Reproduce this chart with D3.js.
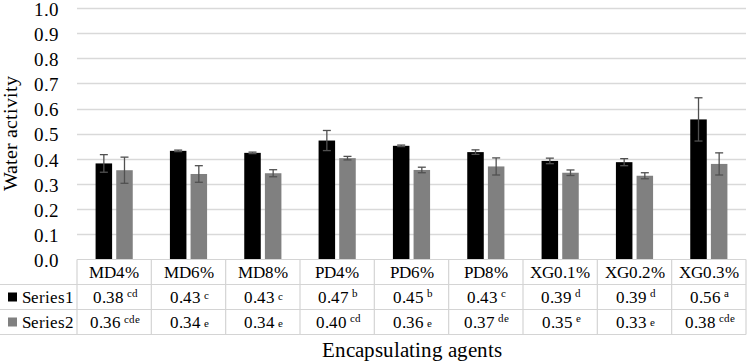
<!DOCTYPE html>
<html>
<head>
<meta charset="utf-8">
<script src="https://cdn.jsdelivr.net/npm/d3@7"></script>
<style>
  @font-face { font-family: "ChartSerif"; src: local("Liberation Serif"), local("LiberationSerif"), local("LiberationSerif-Regular"), local("Times New Roman"), local("Tinos"), local("Tinos-Regular"); }
  html, body { margin: 0; padding: 0; background: #fff; }
  #chart { font-family: "ChartSerif", "Times New Roman", "Liberation Serif", Tinos, serif; }
</style>
</head>
<body>
<svg id="chart" width="747" height="362" style="font-family: 'ChartSerif', 'Times New Roman', 'Liberation Serif', serif"></svg>
<script>
// ---------- data ----------
const categories = ["MD4%", "MD6%", "MD8%", "PD4%", "PD6%", "PD8%", "XG0.1%", "XG0.2%", "XG0.3%"];
const seriesNames = ["Series1", "Series2"];
const series1 = [0.382, 0.432, 0.424, 0.473, 0.452, 0.427, 0.392, 0.387, 0.557];
const series2 = [0.355, 0.340, 0.343, 0.403, 0.356, 0.370, 0.345, 0.333, 0.380];
const series1Err = [0.035, 0.003, 0.003, 0.040, 0.003, 0.009, 0.011, 0.014, 0.086];
const series2Err = [0.052, 0.033, 0.014, 0.007, 0.011, 0.034, 0.011, 0.012, 0.044];
const series1Labels = ["0.38", "0.43", "0.43", "0.47", "0.45", "0.43", "0.39", "0.39", "0.56"];
const series2Labels = ["0.36", "0.34", "0.34", "0.40", "0.36", "0.37", "0.35", "0.33", "0.38"];
const series1Letters = ["cd", "c", "c", "b", "b", "c", "d", "d", "a"];
const series2Letters = ["cde", "e", "e", "cd", "e", "de", "e", "e", "cde"];
const yTicks = [0, 0.1, 0.2, 0.3, 0.4, 0.5, 0.6, 0.7, 0.8, 0.9, 1.0];

// ---------- style ----------
const FONT = '"ChartSerif", "Times New Roman", "Liberation Serif", serif';
const colors = ["#000000", "#808080"];
const gridColor = "#d9d9d9";
const tableColor = "#d4d4d4";
const errColor = "#505050";
const supRaise = [[6, 4, 3, 6, 6, 6, 6, 6, 6], [5, 1, 1, 6, 1, 6, 6, 2, 6]];

const svg = d3.select("#chart");
const mLeft = 77, mRight = 746, mTop = 8, mBottom = 259.5;
const rowH = 25;

const x = d3.scaleBand().domain(categories).range([mLeft, mRight]).padding(0);
const xs = d3.scaleBand().domain(seriesNames).range([0, x.bandwidth()])
  .paddingInner(0.2).paddingOuter(0.9);
const y = d3.scaleLinear().domain([0, 1]).range([mBottom, mTop]);

// gridlines
svg.append("g").selectAll("line").data(yTicks.filter(d => d > 0)).join("line")
  .attr("x1", mLeft).attr("x2", mRight)
  .attr("y1", d => Math.round(y(d)) + 0.5).attr("y2", d => Math.round(y(d)) + 0.5)
  .attr("stroke", gridColor).attr("stroke-width", 1.3);

// y axis tick labels
const yAxis = d3.axisLeft(y).tickValues(yTicks).tickFormat(d3.format(".1f")).tickSize(0).tickPadding(18);
const ga = svg.append("g").attr("transform", `translate(${mLeft},0)`).call(yAxis);
ga.attr("font-family", null).attr("font-size", null);
ga.select(".domain").remove();
ga.selectAll("text").attr("font-size", 19).attr("dy", "0.38em").attr("fill", "#000").style("font-family", FONT);

// y title
svg.append("text")
  .attr("transform", `translate(17,${(mTop + mBottom) / 2}) rotate(-90)`)
  .attr("text-anchor", "middle").attr("font-size", 20).attr("fill", "#000")
  .style("font-family", FONT)
  .text("Water activity");

// bars
const allSeries = [
  { name: seriesNames[0], values: series1, errs: series1Err },
  { name: seriesNames[1], values: series2, errs: series2Err }
];
allSeries.forEach((s, si) => {
  const g = svg.append("g");
  g.selectAll("rect").data(categories).join("rect")
    .attr("x", c => x(c) + xs(s.name))
    .attr("width", xs.bandwidth())
    .attr("y", (c, i) => y(s.values[i]))
    .attr("height", (c, i) => y(0) - y(s.values[i]))
    .attr("fill", colors[si]);
  const eg = svg.append("g").attr("stroke", errColor).attr("stroke-width", 1.3);
  categories.forEach((c, i) => {
    const cx = x(c) + xs(s.name) + xs.bandwidth() / 2;
    const y1 = y(s.values[i] + s.errs[i]), y2 = y(s.values[i] - s.errs[i]);
    eg.append("line").attr("x1", cx).attr("x2", cx).attr("y1", y1).attr("y2", y2);
    eg.append("line").attr("x1", cx - 4).attr("x2", cx + 4).attr("y1", y1).attr("y2", y1);
    eg.append("line").attr("x1", cx - 4).attr("x2", cx + 4).attr("y1", y2).attr("y2", y2);
  });
});

// data table
const tg = svg.append("g").attr("stroke", tableColor).attr("stroke-width", 1.2);
tg.append("line").attr("x1", mLeft).attr("x2", mRight).attr("y1", mBottom).attr("y2", mBottom);
for (let r = 1; r <= 3; r++) {
  tg.append("line").attr("x1", 0).attr("x2", mRight)
    .attr("y1", mBottom + r * rowH).attr("y2", mBottom + r * rowH);
}
categories.forEach(c => {
  tg.append("line").attr("x1", x(c)).attr("x2", x(c)).attr("y1", mBottom).attr("y2", mBottom + 3 * rowH);
});
tg.append("line").attr("x1", mRight).attr("x2", mRight).attr("y1", mBottom).attr("y2", mBottom + 3 * rowH);

// header labels
svg.append("g").selectAll("text").data(categories).join("text")
  .attr("x", c => x(c) + x.bandwidth() / 2)
  .attr("y", mBottom + 18.5)
  .attr("text-anchor", "middle").attr("font-size", 17).attr("fill", "#000")
  .style("font-family", FONT)
  .text(c => c);

// row labels with legend keys
seriesNames.forEach((n, si) => {
  const ry = mBottom + (si + 1) * rowH;
  svg.append("rect").attr("x", 8).attr("y", ry + 8).attr("width", 9).attr("height", 9).attr("fill", colors[si]);
  svg.append("text").attr("x", 21.5).attr("y", ry + 18.5).attr("font-size", 17).attr("fill", "#000")
    .style("font-family", FONT).text(n);
});

// values with letters
const valueRows = [
  { labels: series1Labels, letters: series1Letters },
  { labels: series2Labels, letters: series2Letters }
];
valueRows.forEach((row, si) => {
  const ry = mBottom + (si + 1) * rowH;
  categories.forEach((c, i) => {
    const t = svg.append("text")
      .attr("x", x(c) + x.bandwidth() / 2 + 1)
      .attr("y", ry + 18.5)
      .attr("text-anchor", "middle").attr("font-size", 17).attr("fill", "#000")
      .style("font-family", FONT);
    t.append("tspan").text(row.labels[i]);
    t.append("tspan").attr("dx", 3).attr("dy", -supRaise[si][i]).attr("font-size", 10.5).text(row.letters[i]);
  });
});

// x title
svg.append("text")
  .attr("x", (mLeft + mRight) / 2).attr("y", 356.5)
  .attr("text-anchor", "middle").attr("font-size", 20.5).attr("fill", "#000")
  .style("font-family", FONT)
  .text("Encapsulating agents");
</script>
</body>
</html>
